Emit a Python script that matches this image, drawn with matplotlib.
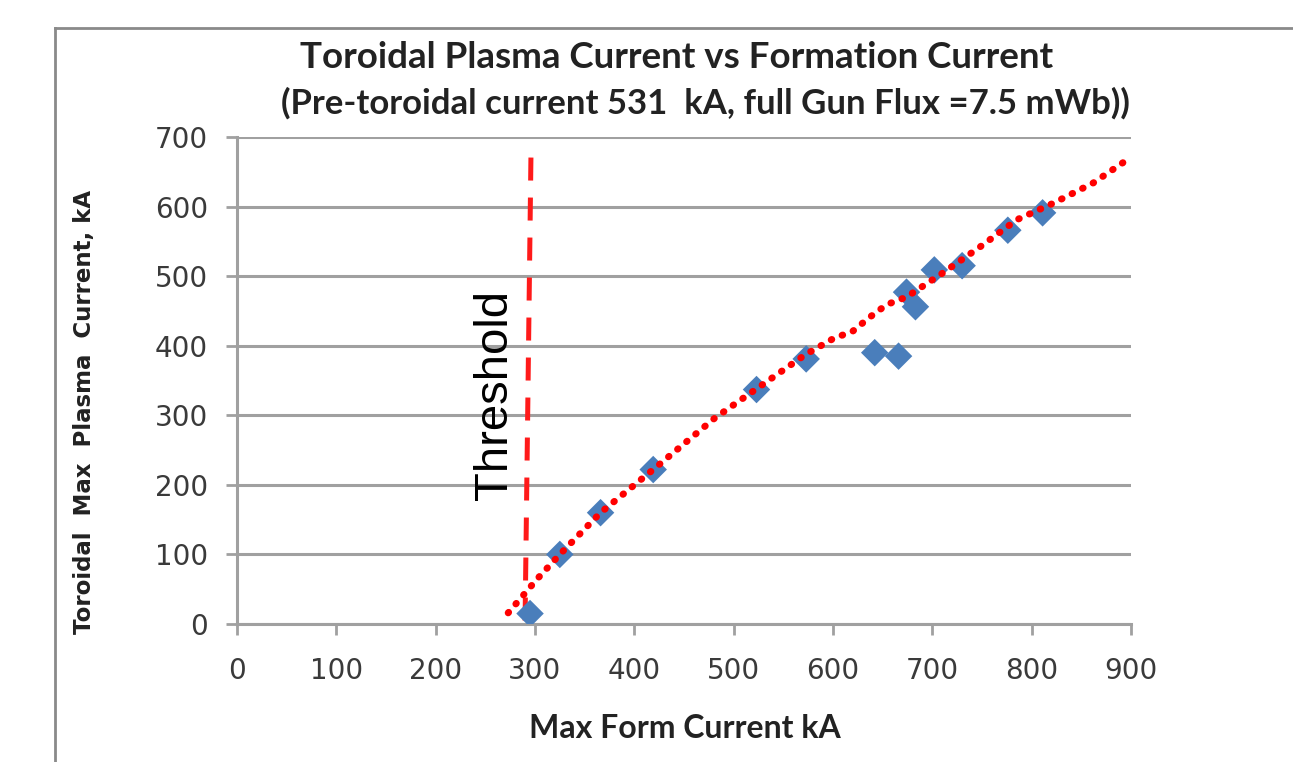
import numpy as np
import matplotlib
matplotlib.use("Agg")
import matplotlib.pyplot as plt
from matplotlib.lines import Line2D

plt.rcParams["font.family"] = ["DejaVu Sans"]

# measured points (max formation current kA, toroidal plasma current kA)
formCurrent = [295, 325, 366, 419, 523, 573, 642, 666, 674, 683, 702, 730, 776, 811]
plasmaCurrent = [15, 100, 160, 222, 337, 381, 390, 385, 477, 456, 509, 515, 566, 591]

# trend line
trendX = [273, 303, 325, 366, 419, 481, 526, 572, 600, 620, 637, 654, 674, 711, 748, 785, 822, 862, 900]
trendY = [16, 66, 100, 160, 222, 296, 341, 387, 410, 421, 441, 459, 470, 505, 542, 581, 605, 634, 671]

# threshold marker line
thresholdX = [290, 296]
thresholdY = [5, 681]

xTicks = [0, 100, 200, 300, 400, 500, 600, 700, 800, 900]
yTicks = [0, 100, 200, 300, 400, 500, 600, 700]

gridColor = "#a0a0a0"
titleFont = ["Lato", "DejaVu Sans"]

fig = plt.figure(figsize=(12.93, 7.62), dpi=100)
ax = fig.add_axes([237 / 1293, 1 - 624 / 762, 894 / 1293, 487 / 762])

# outer chart frame (runs off the right and bottom of the image)
fig.add_artist(Line2D([55 / 1293, 1.0], [1 - 28 / 762] * 2, transform=fig.transFigure,
                      color="#8a8a8a", lw=2))
fig.add_artist(Line2D([55 / 1293] * 2, [0.0, 1 - 28 / 762], transform=fig.transFigure,
                      color="#8a8a8a", lw=2))

ax.set_xlim(0, 900)
ax.set_ylim(0, 700)
ax.set_xticks(xTicks)
ax.set_yticks(yTicks)
ax.grid(axis="y", color=gridColor, lw=2.2)
ax.set_axisbelow(True)
for side in ["top", "right"]:
    ax.spines[side].set_visible(False)
for side in ["left", "bottom"]:
    ax.spines[side].set_color(gridColor)
    ax.spines[side].set_linewidth(2.2)
ax.tick_params(axis="both", direction="out", length=8, width=2, color=gridColor,
               labelsize=20, labelcolor="#3a3a3a")
ax.tick_params(axis="x", pad=16)
ax.tick_params(axis="y", pad=13)

ax.plot(thresholdX, thresholdY, color="#ff1a1a", lw=3.6, linestyle=(0, (4.6, 3.4)),
        zorder=3)
ax.scatter(formCurrent, plasmaCurrent, marker="D", s=14 ** 2, color="#4a7ebb",
           edgecolors="none", zorder=4)
ax.plot(trendX, trendY, color="#ff0000", lw=5, linestyle=(0, (0.1, 1.6)),
        dash_capstyle="round", zorder=5)

ax.text(260, 329, "Threshold", rotation=90, ha="center", va="center",
        fontsize=34, family=["Liberation Sans", "DejaVu Sans"], color="black")

fig.text(677 / 1293, 1 - 58 / 762, "Toroidal Plasma Current vs Formation Current",
         ha="center", va="center", fontsize=26.5, fontweight="bold", family=titleFont,
         color="#222222")
fig.text(705 / 1293, 1 - 103 / 762, "(Pre-toroidal current 531  kA, full Gun Flux =7.5 mWb))",
         ha="center", va="center", fontsize=25, fontweight="bold", family=titleFont,
         color="#222222")
fig.text(685 / 1293, 1 - 728 / 762, "Max Form Current kA", ha="center", va="center",
         fontsize=23, fontweight="bold", family=titleFont, color="#222222")
fig.text(85 / 1293, 1 - 412 / 762, "Toroidal  Max  Plasma  Current, kA", ha="center",
         va="center", rotation=90, fontsize=16.5, fontweight="bold",
         family=["DejaVu Sans"], color="#222222")

fig.savefig("out.png", dpi=100)
